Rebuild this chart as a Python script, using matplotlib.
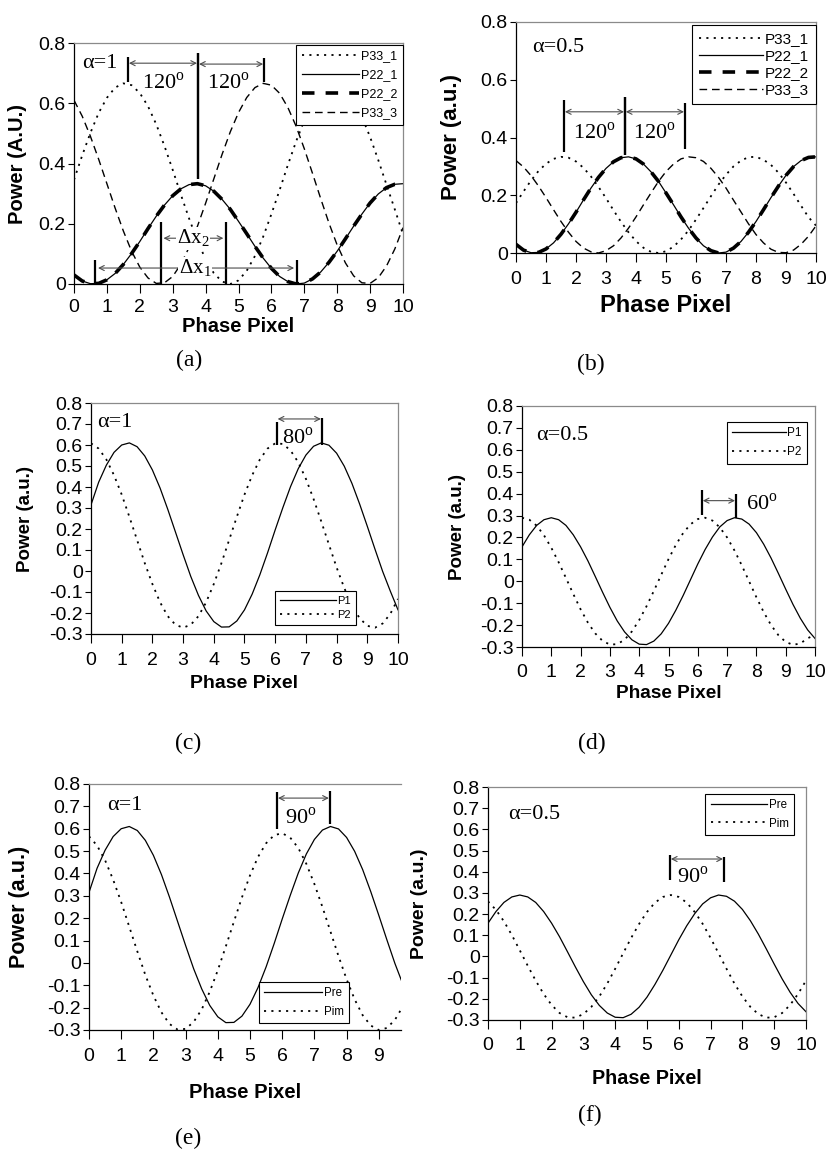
import matplotlib.pyplot as plt

plt.rcParams["font.family"] = ["Liberation Sans", "DejaVu Sans"]
plt.rcParams["axes.unicode_minus"] = False
plt.rcParams["lines.scale_dashes"] = False
plt.rcParams["mathtext.fontset"] = "custom"
plt.rcParams["mathtext.rm"] = "Liberation Serif"

# phase pixel positions shared by every curve
PHASE = [0, 0.25, 0.5, 0.75, 1, 1.25, 1.5, 1.75, 2, 2.25, 2.5, 2.75, 3, 3.25,
         3.5, 3.75, 4, 4.25, 4.5, 4.75, 5, 5.25, 5.5, 5.75, 6, 6.25, 6.5, 6.75,
         7, 7.25, 7.5, 7.75, 8, 8.25, 8.5, 8.75, 9, 9.25, 9.5, 9.75, 10]

# (a) alpha = 1, three-port powers
A_P33_1 = [0.346, 0.427, 0.502, 0.568, 0.618, 0.652, 0.666, 0.660, 0.634, 0.590,
           0.530, 0.458, 0.379, 0.296, 0.217, 0.144, 0.082, 0.036, 0.008, 0.000,
           0.012, 0.044, 0.093, 0.157, 0.232, 0.312, 0.395, 0.473, 0.543, 0.600,
           0.641, 0.663, 0.665, 0.647, 0.610, 0.555, 0.488, 0.411, 0.329, 0.248,
           0.165]
A_P22 = [0.030, 0.010, 0.001, 0.002, 0.014, 0.035, 0.065, 0.101, 0.141, 0.184,
         0.225, 0.262, 0.293, 0.316, 0.330, 0.333, 0.326, 0.308, 0.281, 0.248,
         0.208, 0.167, 0.125, 0.086, 0.052, 0.025, 0.008, 0.000, 0.003, 0.017,
         0.040, 0.072, 0.109, 0.150, 0.192, 0.232, 0.269, 0.299, 0.320, 0.331,
         0.333]
A_P33_3 = [0.610, 0.557, 0.490, 0.414, 0.333, 0.252, 0.176, 0.109, 0.056, 0.020,
           0.002, 0.004, 0.025, 0.066, 0.122, 0.191, 0.268, 0.349, 0.430, 0.505,
           0.569, 0.619, 0.652, 0.666, 0.660, 0.633, 0.586, 0.524, 0.449, 0.367,
           0.283, 0.202, 0.129, 0.070, 0.027, 0.004, 0.002, 0.021, 0.060, 0.116,
           0.187]

# (b) alpha = 0.5
B_P33_1 = [0.173, 0.213, 0.251, 0.284, 0.309, 0.326, 0.333, 0.330, 0.317, 0.295,
           0.265, 0.229, 0.190, 0.148, 0.108, 0.072, 0.041, 0.018, 0.004, 0.000,
           0.006, 0.022, 0.047, 0.078, 0.116, 0.156, 0.197, 0.237, 0.271, 0.300,
           0.320, 0.332, 0.333, 0.323, 0.305, 0.278, 0.244, 0.205, 0.164, 0.124,
           0.095]
B_P22 = [0.030, 0.010, 0.001, 0.002, 0.014, 0.035, 0.065, 0.101, 0.141, 0.184,
         0.225, 0.262, 0.293, 0.316, 0.330, 0.333, 0.326, 0.308, 0.281, 0.248,
         0.208, 0.167, 0.125, 0.086, 0.052, 0.025, 0.008, 0.000, 0.003, 0.017,
         0.040, 0.072, 0.109, 0.150, 0.192, 0.232, 0.269, 0.299, 0.320, 0.331,
         0.333]
B_P33_3 = [0.320, 0.298, 0.268, 0.232, 0.192, 0.150, 0.109, 0.072, 0.040, 0.017,
           0.004, 0.000, 0.008, 0.025, 0.052, 0.086, 0.125, 0.167, 0.208, 0.248,
           0.282, 0.308, 0.326, 0.333, 0.330, 0.317, 0.293, 0.262, 0.225, 0.183,
           0.142, 0.101, 0.064, 0.035, 0.013, 0.002, 0.001, 0.010, 0.030, 0.058,
           0.094]

# (c) alpha = 1, two-port
C_P1 = [0.315, 0.423, 0.504, 0.565, 0.600, 0.610, 0.592, 0.548, 0.481, 0.395,
        0.294, 0.186, 0.078, -0.026, -0.116, -0.190, -0.241, -0.267, -0.266, -0.238,
        -0.185, -0.110, -0.018, 0.086, 0.196, 0.302, 0.402, 0.487, 0.552, 0.594,
        0.610, 0.599, 0.561, 0.499, 0.417, 0.319, 0.213, 0.104, -0.002, -0.096,
        -0.185]
C_P2 = [0.608, 0.583, 0.531, 0.456, 0.364, 0.258, 0.148, 0.038, -0.062, -0.149,
        -0.215, -0.256, -0.270, -0.256, -0.215, -0.149, -0.062, 0.038, 0.148, 0.258,
        0.364, 0.456, 0.531, 0.583, 0.608, 0.605, 0.574, 0.518, 0.439, 0.343,
        0.236, 0.126, 0.017, -0.081, -0.164, -0.225, -0.261, -0.270, -0.250, -0.204,
        -0.133]

# (d) alpha = 0.5, two-port
D_P1 = [0.157, 0.212, 0.255, 0.281, 0.290, 0.281, 0.255, 0.212, 0.157, 0.093,
        0.022, -0.050, -0.119, -0.181, -0.231, -0.267, -0.287, -0.289, -0.273, -0.240,
        -0.192, -0.132, -0.065, 0.007, 0.079, 0.145, 0.202, 0.248, 0.277, 0.290,
        0.284, 0.261, 0.222, 0.169, 0.106, 0.036, -0.036, -0.106, -0.169, -0.222,
        -0.261]
D_P2 = [0.290, 0.281, 0.254, 0.210, 0.153, 0.087, 0.015, -0.058, -0.128, -0.189,
        -0.238, -0.272, -0.289, -0.287, -0.267, -0.229, -0.177, -0.114, -0.044, 0.029,
        0.101, 0.166, 0.220, 0.260, 0.284, 0.290, 0.277, 0.246, 0.200, 0.141,
        0.073, 0.000, -0.073, -0.141, -0.200, -0.246, -0.277, -0.290, -0.284, -0.260,
        -0.245]

# (e) alpha = 1, real / imaginary
E_PRE = [0.315, 0.423, 0.504, 0.565, 0.600, 0.610, 0.592, 0.548, 0.481, 0.395,
         0.294, 0.186, 0.078, -0.026, -0.116, -0.190, -0.241, -0.267, -0.266, -0.238,
         -0.185, -0.110, -0.018, 0.086, 0.196, 0.302, 0.402, 0.487, 0.552, 0.594,
         0.610, 0.599, 0.561, 0.499, 0.417, 0.319, 0.213, 0.104, -0.002, -0.096,
         -0.175]
E_PIM = [0.566, 0.525, 0.459, 0.372, 0.272, 0.162, 0.052, -0.054, -0.146, -0.221,
         -0.273, -0.298, -0.295, -0.264, -0.208, -0.129, -0.033, 0.074, 0.184, 0.293,
         0.391, 0.474, 0.535, 0.571, 0.580, 0.560, 0.514, 0.443, 0.353, 0.250,
         0.140, 0.030, -0.073, -0.163, -0.234, -0.280, -0.300, -0.291, -0.255, -0.194,
         -0.111]

# (f) alpha = 0.5, real / imaginary
F_PRE = [0.157, 0.212, 0.255, 0.281, 0.290, 0.281, 0.255, 0.212, 0.157, 0.093,
         0.022, -0.050, -0.119, -0.181, -0.231, -0.267, -0.287, -0.289, -0.273, -0.240,
         -0.192, -0.132, -0.065, 0.007, 0.079, 0.145, 0.202, 0.248, 0.277, 0.290,
         0.284, 0.261, 0.222, 0.169, 0.106, 0.036, -0.036, -0.106, -0.169, -0.222,
         -0.261]
F_PIM = [0.260, 0.220, 0.166, 0.101, 0.029, -0.044, -0.114, -0.177, -0.229, -0.267,
         -0.287, -0.289, -0.272, -0.238, -0.189, -0.128, -0.058, 0.015, 0.087, 0.153,
         0.210, 0.254, 0.281, 0.290, 0.281, 0.254, 0.210, 0.154, 0.087, 0.015,
         -0.058, -0.128, -0.189, -0.238, -0.272, -0.289, -0.287, -0.267, -0.229, -0.177,
         -0.114]

X_TICKS = [0, 1, 2, 3, 4, 5, 6, 7, 8, 9, 10]
Y_TICKS_TOP = [0, 0.2, 0.4, 0.6, 0.8]
Y_LABELS_TOP = ["0", "0.2", "0.4", "0.6", "0.8"]
Y_TICKS_LOW = [-0.3, -0.2, -0.1, 0, 0.1, 0.2, 0.3, 0.4, 0.5, 0.6, 0.7, 0.8]
Y_LABELS_LOW = ["-0.3", "-0.2", "-0.1", "0", "0.1", "0.2", "0.3", "0.4",
                "0.5", "0.6", "0.7", "0.8"]

W, H = 828, 1150
SERIF = ["Liberation Serif", "DejaVu Serif"]
DOTTED = (0, (1.5, 3.8))
DASHED = (0, (5.5, 3.5))
LONG_DASH = (0, (9, 8))


def px_axes(fig, left, top, right, bottom):
    return fig.add_axes([left / W, 1 - bottom / H, (right - left) / W, (bottom - top) / H])


def setup(ax, box, xmax, yticks, ylabels, ylabel, xfs, yfs, xoff, yoff, xpad):
    wpx = box[2] - box[0]
    hpx = box[3] - box[1]
    ax.set_xlim(0, xmax)
    ax.set_ylim(yticks[0], yticks[-1])
    ax.set_xticks([t for t in X_TICKS if t <= xmax])
    ax.set_yticks(yticks, ylabels)
    ax.tick_params(axis="x", direction="out", length=6.5, width=0.8,
                   labelsize=14, pad=xpad)
    ax.tick_params(axis="y", direction="out", length=4.5, width=0.8,
                   labelsize=14, pad=1.5)
    for side in ("left", "bottom"):
        ax.spines[side].set_color("black")
        ax.spines[side].set_linewidth(0.9)
    for side in ("top", "right"):
        ax.spines[side].set_color("#8a8a8a")
        ax.spines[side].set_linewidth(0.9)
    ax.set_xlabel("Phase Pixel", fontsize=xfs, fontweight="bold")
    ax.set_ylabel(ylabel, fontsize=yfs, fontweight="bold")
    ax.xaxis.label.set_va("center")
    ax.yaxis.label.set_va("center")
    ax.yaxis.label.set_ha("center")
    ax.xaxis.set_label_coords(0.5, -xoff / hpx)
    ax.yaxis.set_label_coords(-yoff / wpx, 0.5)


def legend(ax, loc, anchor, fs, hl, spacing):
    leg = ax.legend(loc=loc, bbox_to_anchor=anchor, fontsize=fs, handlelength=hl,
                    handletextpad=0.15, labelspacing=spacing, borderpad=0.45,
                    borderaxespad=0, fancybox=False, framealpha=1,
                    edgecolor="black")
    leg.get_frame().set_linewidth(0.8)
    leg.set_zorder(10)


def shift_mark(ax, x0, x1, ys0, ys1, y_arrow, pad=0.03):
    ax.plot([x0, x0], ys0, color="black", lw=1.6, solid_capstyle="butt")
    ax.plot([x1, x1], ys1, color="black", lw=1.6, solid_capstyle="butt")
    ax.annotate("", xy=(x1 - pad, y_arrow), xytext=(x0 + pad, y_arrow),
                arrowprops=dict(arrowstyle="<->", color="0.3", lw=0.8,
                                mutation_scale=9, shrinkA=0, shrinkB=0))


def serif_text(ax, x, y, s, size=16, ha="center", **kw):
    ax.text(x, y, s, fontsize=size, family=SERIF, ha=ha, va="center", **kw)


fig = plt.figure(figsize=(W / 100, H / 100), dpi=100)

# ---------------- (a) ----------------
box = (74, 43, 403, 284)
ax = px_axes(fig, *box)
ax.plot(PHASE, A_P33_1, color="black", lw=1.3, ls=DOTTED, label="P33_1")
ax.plot(PHASE, A_P22, color="black", lw=0.9, label="P22_1")
ax.plot(PHASE, A_P22, color="black", lw=2.6, ls=LONG_DASH, label="P22_2")
ax.plot(PHASE, A_P33_3, color="black", lw=1.0, ls=DASHED, label="P33_3")
setup(ax, box, 10, Y_TICKS_TOP, Y_LABELS_TOP, "Power (A.U.)", 14.5, 14.5, 43, 56, 4.5)
legend(ax, "upper right", (1.0, 0.992), 9, 4.6, 0.55)
serif_text(ax, 0.25, 0.733, "\u03b1=1", ha="left")
shift_mark(ax, 1.64, 3.77, [0.67, 0.755], [0.35, 0.768], 0.733)
shift_mark(ax, 3.77, 5.78, [0.35, 0.768], [0.67, 0.75], 0.73)
serif_text(ax, 2.72, 0.665, r"120$^\mathrm{o}$")
serif_text(ax, 4.7, 0.665, r"120$^\mathrm{o}$")
shift_mark(ax, 0.65, 6.77, [0.004, 0.08], [0.004, 0.08], 0.053, pad=0.08)
shift_mark(ax, 2.64, 4.62, [0.0, 0.205], [0.0, 0.205], 0.152, pad=0.08)
serif_text(ax, 3.62, 0.152, "\u0394$\\mathrm{x}_2$", size=15,
           bbox=dict(fc="white", ec="none", pad=0.5))
serif_text(ax, 3.68, 0.053, "\u0394$\\mathrm{x}_1$", size=15,
           bbox=dict(fc="white", ec="none", pad=0.5))

# ---------------- (b) ----------------
box = (516, 22, 816, 253)
ax = px_axes(fig, *box)
ax.plot(PHASE, B_P33_1, color="black", lw=1.3, ls=DOTTED, label="P33_1")
ax.plot(PHASE, B_P22, color="black", lw=0.9, label="P22_1")
ax.plot(PHASE, B_P22, color="black", lw=2.6, ls=LONG_DASH, label="P22_2")
ax.plot(PHASE, B_P33_3, color="black", lw=1.0, ls=DASHED, label="P33_3")
setup(ax, box, 10, Y_TICKS_TOP, Y_LABELS_TOP, "Power (a.u.)", 17, 16, 52, 64, 6.5)
legend(ax, "upper right", (1.0, 0.987), 11, 4.2, 0.2)
serif_text(ax, 0.53, 0.713, "\u03b1=0.5", ha="left")
shift_mark(ax, 1.6, 3.63, [0.35, 0.53], [0.34, 0.54], 0.489)
shift_mark(ax, 3.63, 5.63, [0.34, 0.54], [0.36, 0.52], 0.489)
serif_text(ax, 2.63, 0.416, r"120$^\mathrm{o}$")
serif_text(ax, 4.63, 0.416, r"120$^\mathrm{o}$")

# ---------------- (c) ----------------
box = (91, 403, 398, 634)
ax = px_axes(fig, *box)
ax.plot(PHASE, C_P1, color="black", lw=0.9, label="P1")
ax.plot(PHASE, C_P2, color="black", lw=1.3, ls=DOTTED, label="P2")
setup(ax, box, 10, Y_TICKS_LOW, Y_LABELS_LOW, "Power (a.u.)", 14, 13.5, 50, 66, 6.5)
legend(ax, "lower right", (0.863, 0.039), 8, 5.0, 0.35)
serif_text(ax, 0.2, 0.705, "\u03b1=1", ha="left")
shift_mark(ax, 6.05, 7.52, [0.6, 0.71], [0.6, 0.73], 0.724)
serif_text(ax, 6.75, 0.63, r"80$^\mathrm{o}$")

# ---------------- (d) ----------------
box = (522, 406, 815, 647)
ax = px_axes(fig, *box)
ax.plot(PHASE, D_P1, color="black", lw=0.9, label="P1")
ax.plot(PHASE, D_P2, color="black", lw=1.3, ls=DOTTED, label="P2")
setup(ax, box, 10, Y_TICKS_LOW, Y_LABELS_LOW, "Power (a.u.)", 13.7, 13.5, 46, 65, 5.5)
legend(ax, "upper right", (0.973, 0.934), 8.5, 4.5, 0.6)
serif_text(ax, 0.48, 0.667, "\u03b1=0.5", ha="left")
shift_mark(ax, 6.14, 7.3, [0.302, 0.416], [0.29, 0.40], 0.368)
serif_text(ax, 8.2, 0.35, r"60$^\mathrm{o}$")

# ---------------- (e) ----------------
box = (89, 784, 401, 1030)
ax = px_axes(fig, *box)
ax.plot(PHASE, E_PRE, color="black", lw=0.9, label="Pre")
ax.plot(PHASE, E_PIM, color="black", lw=1.3, ls=DOTTED, label="Pim")
setup(ax, box, 9.69, Y_TICKS_LOW, Y_LABELS_LOW, "Power (a.u.)", 14.5, 15.5, 63, 69, 6.5)
ax.spines["right"].set_visible(False)
legend(ax, "lower right", (0.833, 0.028), 8.3, 5.0, 0.6)
serif_text(ax, 0.55, 0.706, "\u03b1=1", ha="left")
shift_mark(ax, 5.84, 7.48, [0.60, 0.764], [0.62, 0.77], 0.737)
serif_text(ax, 6.58, 0.647, r"90$^\mathrm{o}$")

# ---------------- (f) ----------------
box = (488, 787, 806, 1020)
ax = px_axes(fig, *box)
ax.plot(PHASE, F_PRE, color="black", lw=0.9, label="Pre")
ax.plot(PHASE, F_PIM, color="black", lw=1.3, ls=DOTTED, label="Pim")
setup(ax, box, 10, Y_TICKS_LOW, Y_LABELS_LOW, "Power (a.u.)", 14.2, 14, 59, 68, 6)
legend(ax, "upper right", (0.962, 0.97), 8.3, 4.9, 0.55)
serif_text(ax, 0.63, 0.668, "\u03b1=0.5", ha="left")
shift_mark(ax, 5.72, 7.42, [0.36, 0.48], [0.35, 0.47], 0.46)
serif_text(ax, 6.45, 0.375, r"90$^\mathrm{o}$")

# panel captions
for label, cx, cy in [("(a)", 189, 360), ("(b)", 591, 364), ("(c)", 188, 743),
                      ("(d)", 592, 743), ("(e)", 188, 1138), ("(f)", 590, 1115)]:
    fig.text(cx / W, 1 - cy / H, label, fontsize=17, family=SERIF,
             ha="center", va="center")

fig.savefig("out.png", dpi=100)
